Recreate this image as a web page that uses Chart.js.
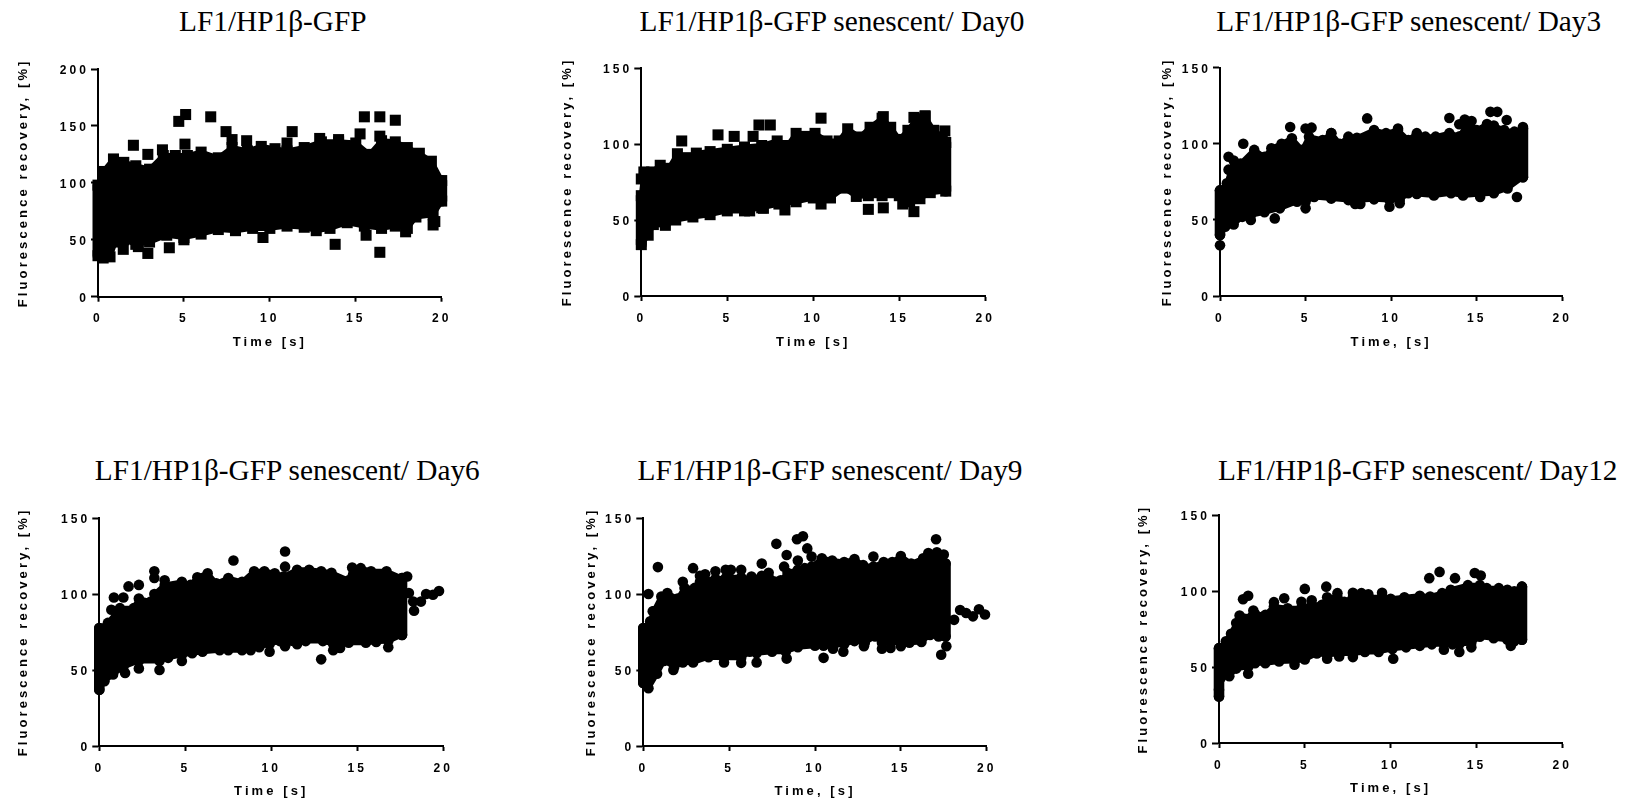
<!DOCTYPE html>
<html>
<head>
<meta charset="utf-8">
<title>FRAP recovery</title>
<script src="https://cdn.jsdelivr.net/npm/chart.js@4/dist/chart.umd.min.js"></script>
<style>
html, body { margin: 0; padding: 0; background: #fff; overflow: hidden; }
canvas { position: absolute; }
.plot-title { position: absolute; transform: translateX(-50%); white-space: nowrap; font: 29.3px/36px "Liberation Serif", serif; color: #000; }
</style>
</head>
<body>
<script>
// values: [time, recovery]. Upper/lower are the edges of the dense cloud,
// scatter holds the stray points and the points on the cloud's left and right sides
var titles = ['LF1/HP1β-GFP', 'LF1/HP1β-GFP senescent/ Day0', 'LF1/HP1β-GFP senescent/ Day3',
	'LF1/HP1β-GFP senescent/ Day6', 'LF1/HP1β-GFP senescent/ Day9', 'LF1/HP1β-GFP senescent/ Day12'];
var xTitles = ['Time [s]', 'Time [s]', 'Time, [s]', 'Time [s]', 'Time, [s]', 'Time, [s]'];
var yTitle = 'Fluorescence recovery, [%]';
var xTicks = [0, 5, 10, 15, 20];
var yTicksWide = [0, 50, 100, 150, 200];
var yTicksNarrow = [0, 50, 100, 150];

var upper1 = [[0,98],[0.3,110],[0.9,121],[1.5,118],[2.2,115],[3,112],[3.8,124],[4.5,124],[5.2,124],[6,127],[7,122],[7.8,131],[8.7,128],[9.5,132],[10.3,130],[11,128],[12,131],[13,136],[14,136],[15,135],[15.8,125],[16.5,137],[17.3,136],[18,131],[18.7,126],[19.4,119],[20,102]];
var lower1 = [[0,36],[0.3,34],[0.7,35],[1,48],[1.5,50],[2.2,46],[3,48],[4,54],[5,52],[6,55],[7,59],[8,58],[9,60],[10,60],[11,62],[12,61],[12.7,58],[13.5,60],[14.5,65],[15.5,62],[16.5,60],[17.3,62],[18,60],[18.5,70],[19.5,72],[20,84]];
var scatter1 = [[2.06,133],[2.9,125],[3.75,129],[4.7,154],[5.1,160],[5.06,134],[6.56,158],[7.45,145],[7.8,138],[8.65,137],[11.3,145],[11,135],[12.9,139],[14,138],[15.25,143],[15.5,158],[16.4,158],[17.3,155],[16.4,141],[13.8,46],[16.4,39],[1.47,41.6],[2.35,44],[2.9,38],[4.15,43],[5,50],[9.6,52],[15.6,54],[17.9,57],[19.5,63],[19.6,66]];

var upper2 = [[0,66],[0.15,81.6],[0.6,81.6],[1.1,86],[1.6,84],[2.1,93.6],[2.6,91],[3.2,94],[4,95],[5,96.5],[6,98],[7,99],[7.9,102],[8.5,99],[9,107],[9.6,105],[10.1,107],[10.8,102],[11.5,102],[12,110],[12.7,104.6],[13.3,111],[14,117],[14.5,111],[15,103],[15.5,109],[16,116.6],[16.5,118],[17,109],[17.5,104.6],[17.7,101]];
var lower2 = [[0,33.8],[0.4,40],[0.7,47],[1.4,46.5],[2,50],[3,52],[4,53.5],[5,56],[6,56],[7,58],[8,60.5],[9,62],[10,64.5],[11,64.5],[11.8,71],[12.5,65.5],[13.2,66],[14,66],[15,66],[15.6,62],[16.2,64],[16.8,68],[17.7,69]];
var scatter2 = [[0,77],[2.35,102],[4.46,106],[5.4,105],[6.5,105],[6.84,112.5],[7.5,112.5],[10.45,117],[14.07,118],[15.85,117.5],[16.5,118.6],[17.65,108.6],[13.2,57],[14.07,58],[15.85,55.5],[10.45,60.5],[8.35,56.6],[7.1,57.7],[6.3,56],[15.2,60.5]];

var upper3 = [[0,69.4],[0.4,74],[0.8,89],[1.2,87],[2,96],[2.6,91.5],[3,97],[3.6,100],[4.2,103.6],[4.8,96],[5.2,104.7],[6,102.5],[6.5,107],[7,100],[7.5,104.7],[8,104],[9,109],[9.7,107],[10.4,109],[11,102.5],[11.5,107],[12,104.7],[12.6,104.7],[13.4,107],[14,105],[14.5,114.5],[15,109],[15.6,113],[16,112],[16.6,109],[17.2,108],[17.7,110]];
var lower3 = [[0,40],[0.3,45.5],[0.8,47],[1.3,52],[1.8,53],[2.6,55],[3.5,57.6],[4.5,62],[5,62],[5.5,65],[6.5,64],[7.5,63],[7.9,63],[8.2,63],[9,63.5],[9.9,63],[10.5,63],[11,67.5],[11.5,67],[12.5,66],[13.5,67.5],[14.2,66],[15.2,67],[16,67.5],[16.8,70.7],[17.7,78]];
var scatter3 = [[0.5,91.5],[0.5,83],[1.36,100],[4.1,111],[5,110],[5.35,110.6],[6.5,107],[8.6,116.7],[13.4,117],[15.8,121],[16.2,121],[16.75,115.6],[13.98,112.8],[14.3,116],[14.7,115],[17.7,111],[10.4,110],[3.2,51],[0,33.3],[17.35,65],[15.2,65],[1.8,50],[5,57.6],[7.9,60.5],[8.2,60.5],[9.9,58.7],[10.5,61]];

var upper4 = [[0,77.6],[0.5,81],[1.2,90.7],[2,90.7],[2.3,97],[3,95],[3.2,100],[3.8,106],[4.8,108],[5.3,106],[5.7,111],[6.3,113.7],[6.8,107],[7.5,110.5],[8.3,108],[9,115],[9.6,115],[10.2,113.7],[10.7,111.5],[11.5,116],[12.2,116],[12.9,115],[13.5,114],[14.5,109],[14.7,117.4],[15.2,117],[15.8,115],[16.7,115],[17.6,110.5]];
var lower4 = [[0,37],[0.3,42.6],[0.8,47],[1.4,52],[2.3,56],[3.5,56],[4,58],[4.8,60],[5.4,61],[6,62],[7,63],[7.5,63],[8.3,63],[8.8,63],[9.3,65],[9.9,67],[10.5,69],[10.8,68],[11.5,67],[12,69],[13,69],[13.6,67],[14,67],[14.5,68],[15.5,68],[16.1,68.5],[16.8,69],[17.6,73]];
var scatter4 = [[0.7,89.6],[0.85,97.7],[1.4,97.7],[1.7,105],[2.3,106],[3.2,115],[3.2,110.5],[3.8,109],[7.8,122],[10.8,128],[10.8,118],[12.9,57],[17.9,111.5],[18,100.6],[18.25,95],[18.3,89],[18.7,95],[19,100],[19.4,99.5],[19.75,102],[1.5,48],[2.3,51],[3.5,50],[4.8,56],[9.9,62],[10.8,65.6],[13.6,63],[14,64.5],[16.8,65]];

var upper5 = [[0,77.6],[0.4,82],[0.6,88.6],[1.05,98.4],[1.4,100.6],[2,97],[2.4,104],[3,104],[3.3,108],[3.6,109],[4.2,110],[4.8,110.5],[5,111],[5.7,111],[6.3,110],[6.9,112],[7.3,111],[8,109],[8.4,114],[9,116],[9.4,117],[9.8,118],[10.4,123.5],[11,122],[11.7,121],[12.3,123],[12.8,119],[13.4,118],[14,121],[14.5,121],[15,125],[15.6,120],[16.3,123.5],[16.6,127],[17.1,127.5],[17.5,126],[17.6,120]];
var lower5 = [[0,41.5],[0.3,38],[0.8,47.5],[1.2,56],[1.8,52],[2.3,55],[2.9,55],[3.8,58.4],[4.7,58],[5.7,58],[6.2,62],[6.6,61],[7.5,62],[8.3,62],[9,65],[10,66],[10.5,66],[11,66],[11.7,67],[12.3,69],[12.9,68],[13.5,72],[13.9,68],[14.4,68],[15,68],[15.5,68],[16.2,68.5],[16.7,73],[17.2,72],[17.6,72]];
var scatter5 = [[0.3,100],[0.85,117.7],[0.55,88.6],[2.3,108],[2.9,117],[3.3,112],[3.6,113],[4.2,115],[4.8,116],[5.1,116],[5.7,116],[6.3,111.5],[6.9,120],[7.3,114],[7.75,133],[8.35,125.7],[8.2,118],[8.95,136],[9,122],[9.3,138],[9.55,130],[9.8,124.6],[13.4,124.6],[17.05,136],[17.35,60],[17.65,65.6],[1.75,50],[4.7,55],[5.7,54.7],[6.6,55],[8.35,57.5],[10.5,58],[11.05,64],[11.65,62],[12.85,65.6],[13.9,64],[14.4,64.5],[15,65.6],[18.1,83],[18.45,89.5],[18.8,87.5],[19.2,85.3],[19.55,90],[19.9,86.5]];

var upper6 = [[0,62.5],[0.4,67],[0.7,72],[1,79],[1.2,84],[1.9,83],[2.1,85],[2.7,84.4],[3.2,90],[4,88.8],[4.8,89],[5.4,91],[6,91],[6.3,96],[6.9,96],[7.3,93],[7.8,96],[8.3,96],[8.7,96],[9.5,96],[10,95],[10.8,96],[11.7,97],[12.3,96.5],[13,98.7],[13.5,101],[14.5,104],[15.2,104],[15.6,102],[16.3,102],[16.8,101],[17.2,100],[17.65,103]];
var lower6 = [[0,30.7],[0.1,42.8],[0.6,44],[1,49],[1.7,50],[2.1,52.6],[2.7,52.6],[3.5,53.7],[4.4,54],[5,55],[5.7,59],[6.3,58],[7,59],[7.8,59],[8.5,60],[9.3,60],[10.1,62],[10.9,63],[11.7,64],[12.4,65],[13.1,65],[13.6,65],[14,65],[14.7,66],[15.2,70],[16,69],[16.8,68],[17.2,67],[17.65,68]];
var scatter6 = [[1.4,94.7],[1.7,97],[2,87.3],[3.8,95.4],[3.2,92.8],[5,101.5],[4.8,93],[5.4,94],[6.25,103],[6.9,98.7],[7.8,99],[8.3,98.7],[8.7,98],[9.5,99],[12.25,108.6],[12.85,112.7],[13.75,108.6],[14.9,112],[15.25,110.3],[10.15,55.5],[4.4,51.5],[6.3,55.5],[7,57],[7.8,56.6],[0,35],[1.7,45.6],[13.1,61.4],[14,60],[14.7,63],[17,64]];

// pixel layout of each panel: plot box, centre of the axis titles, centre/top of the heading
var boxes = [
	{ l: 98, r: 441.7, t: 69, b: 296.7, yt: 24, xt: 342, ch: 272.8, th: 3 },
	{ l: 641.3, r: 985.3, t: 68, b: 296, yt: 568, xt: 342, ch: 832, th: 3 },
	{ l: 1220, r: 1562.3, t: 67.7, b: 296, yt: 1168, xt: 342, ch: 1408.7, th: 3 },
	{ l: 99.3, r: 443.3, t: 518, b: 746.7, yt: 24, xt: 791.7, ch: 287.3, th: 452 },
	{ l: 643.3, r: 986.7, t: 518, b: 746.7, yt: 592, xt: 791.7, ch: 830, th: 452 },
	{ l: 1219, r: 1562.3, t: 515.3, b: 743.3, yt: 1144, xt: 788.3, ch: 1417.7, th: 452 }
];
var uppers = [upper1, upper2, upper3, upper4, upper5, upper6];
var lowers = [lower1, lower2, lower3, lower4, lower5, lower6];
var scatters = [scatter1, scatter2, scatter3, scatter4, scatter5, scatter6];

var tickFont = { family: '"Liberation Sans", Arial, sans-serif', size: 12, weight: 'bold' };
var axisFont = { family: '"Liberation Sans", Arial, sans-serif', size: 13, weight: 'bold' };

// spaced out lettering as in the original export, y labels sit a bit under their ticks
var textTweaks = {
	id: 'textTweaks',
	beforeDraw: function(chart) {
		chart.ctx.letterSpacing = '3.1px';
		chart.scales.y.getLabelItems().forEach(function(item) { item.textOffset += 1.5; });
	}
};

function toPoints(list) {
	return list.map(function(p) { return { x: p[0], y: p[1] }; });
}

function renderPanel(i) {
	var box = boxes[i];
	var left = box.yt - 8;
	var right = Math.ceil(box.r) + 24;
	var top = Math.floor(box.t) - 10;
	var bottom = box.xt + 8;
	var square = i < 2;
	var marker = square ? { pointStyle: 'rect', pointRadius: 7.8 } : { pointStyle: 'circle', pointRadius: 5.3 };
	var sideStroke = square ? 11 : 10.6;

	var canvas = document.createElement('canvas');
	canvas.style.left = left + 'px';
	canvas.style.top = top + 'px';
	canvas.width = right - left;
	canvas.height = bottom - top;
	document.body.appendChild(canvas);

	var head = document.createElement('div');
	head.className = 'plot-title';
	head.textContent = titles[i];
	head.style.left = box.ch + 'px';
	head.style.top = box.th + 'px';
	document.body.appendChild(head);

	function cloud(data, extra) {
		return Object.assign({
			data: toPoints(data),
			backgroundColor: '#000',
			borderColor: '#000',
			borderWidth: 5,
			borderJoinStyle: 'round',
			borderCapStyle: 'round',
			pointBackgroundColor: '#000',
			pointBorderWidth: 0,
			clip: false
		}, marker, extra);
	}

	var up = uppers[i];
	var low = lowers[i];
	var yTicks = i === 0 ? yTicksWide : yTicksNarrow;

	new Chart(canvas.getContext('2d'), {
		type: 'scatter',
		data: {
			datasets: [
				cloud(up, { showLine: true, fill: false }),
				cloud(low, { showLine: true, fill: '-1' }),
				cloud(scatters[i], { showLine: false }),
				// left and right sides of the cloud
				cloud([up[0], low[0]], { showLine: true, pointRadius: 0, borderWidth: sideStroke, borderCapStyle: 'butt' }),
				cloud([up[up.length - 1], low[low.length - 1]], { showLine: true, pointRadius: 0, borderWidth: sideStroke, borderCapStyle: 'butt' })
			]
		},
		options: {
			responsive: false,
			animation: false,
			events: [],
			layout: { padding: { top: box.t - top, right: right - box.r, left: 0, bottom: 0 } },
			plugins: { legend: { display: false }, tooltip: { enabled: false }, title: { display: false } },
			scales: {
				x: {
					type: 'linear',
					min: xTicks[0],
					max: xTicks[xTicks.length - 1],
					afterFit: function(scale) { scale.height = bottom - box.b; },
					afterBuildTicks: function(scale) { scale.ticks = xTicks.map(function(v) { return { value: v }; }); },
					border: { color: '#000', width: 2 },
					grid: { drawOnChartArea: false, color: '#000', tickLength: 5, tickWidth: 2 },
					ticks: { color: '#000', font: tickFont, maxRotation: 0, padding: 10 },
					title: { display: true, text: xTitles[i], color: '#000', font: axisFont, padding: 0 }
				},
				y: {
					type: 'linear',
					min: yTicks[0],
					max: yTicks[yTicks.length - 1],
					afterFit: function(scale) { scale.width = box.l - left; },
					afterBuildTicks: function(scale) { scale.ticks = yTicks.map(function(v) { return { value: v }; }); },
					border: { color: '#000', width: 2 },
					grid: { drawOnChartArea: false, color: '#000', tickLength: 7, tickWidth: 2 },
					ticks: { color: '#000', font: tickFont, padding: 2 },
					title: { display: true, text: yTitle, color: '#000', font: axisFont, padding: 0 }
				}
			}
		},
		plugins: [textTweaks]
	});
}

for (var i = 0; i < boxes.length; i++) {
	renderPanel(i);
}
</script>
</body>
</html>
